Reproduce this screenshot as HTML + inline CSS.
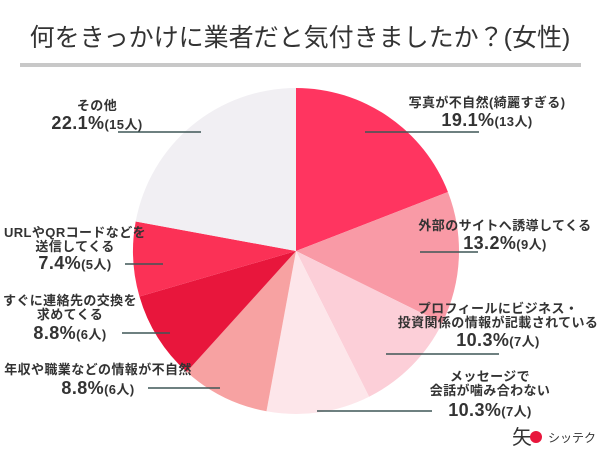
<!DOCTYPE html>
<html><head><meta charset="utf-8"><style>
body{margin:0;background:#fff;width:600px;height:456px;overflow:hidden;font-family:"Liberation Sans","Noto Sans CJK JP",sans-serif;}
</style></head><body>
<svg width="600" height="456" viewBox="0 0 600 456">
<text x="300" y="46" text-anchor="middle" font-size="25" fill="#333">何をきっかけに業者だと気付きましたか？(女性)</text>
<rect x="20" y="63" width="561" height="4" fill="#c8c8c8"/>
<g id="slices"></g>
<g id="labels" font-weight="bold" fill="#333" letter-spacing="0.4"></g>
<g>
<text x="512" y="444" font-size="20" fill="#333">矢</text>
<circle cx="536" cy="437" r="6" fill="#e8163c"/>
<text x="548" y="442" font-size="12" fill="#333">シッテク</text>
</g>
</svg>
<script>
const categories=["写真が不自然(綺麗すぎる)","外部のサイトへ誘導してくる","プロフィールにビジネス・投資関係の情報が記載されている","メッセージで会話が噛み合わない","年収や職業などの情報が不自然","すぐに連絡先の交換を求めてくる","URLやQRコードなどを送信してくる","その他"];
const values=[19.1,13.2,10.3,10.3,8.8,8.8,7.4,22.1];
const counts=[13,9,7,7,6,6,5,15];
const colors=["#ff3560","#f99aa6","#fccfd8","#fde6ea","#f7a2a2","#e8163c","#fb3156","#f1eff3"];
const labelLines=[["写真が不自然(綺麗すぎる)"],["外部のサイトへ誘導してくる"],["プロフィールにビジネス・","投資関係の情報が記載されている"],["メッセージで","会話が噛み合わない"],["年収や職業などの情報が不自然"],["すぐに連絡先の交換を","求めてくる"],["URLやQRコードなどを","送信してくる"],["その他"]];
const labelX=[487,505,498,490,98,70,75,97];
const labelY=[102,225,308,376,369,300,232,105];
const pctY=[120,243,340,410,388,333,263,123];
const leaders=[[365,479,132],[420,478,252],[386,499,354],[317,432,411],[148,220,388],[122,170,333],[125,163,264],[118,201,132]];
const ns="http://www.w3.org/2000/svg";
const cx=296,cy=251,r=163;
const total=values.reduce((a,b)=>a+b,0);
const sg=document.getElementById('slices');
let a0=0;
values.forEach((v,i)=>{
 const a1=a0+v/total*2*Math.PI;
 const x0=cx+r*Math.sin(a0),y0=cy-r*Math.cos(a0),x1=cx+r*Math.sin(a1),y1=cy-r*Math.cos(a1);
 const p=document.createElementNS(ns,'path');
 p.setAttribute('d',`M${cx},${cy}L${x0},${y0}A${r},${r} 0 ${a1-a0>Math.PI?1:0} 1 ${x1},${y1}Z`);
 p.setAttribute('fill',colors[i]);
 
 
 sg.appendChild(p);
 a0=a1;
});
const lg=document.getElementById('labels');
labelLines.forEach((lines,i)=>{
 const x=labelX[i];
 const t=document.createElementNS(ns,'text');
 t.setAttribute('text-anchor','middle');
 
 
 lines.forEach((s,j)=>{const ts=document.createElementNS(ns,'tspan');ts.setAttribute('x',x);ts.setAttribute('y',labelY[i]+5+j*14);ts.setAttribute('font-size','13');ts.textContent=s;t.appendChild(ts);});
 const ts=document.createElementNS(ns,'tspan');ts.setAttribute('x',x);ts.setAttribute('y',pctY[i]+6);
 const b=document.createElementNS(ns,'tspan');b.setAttribute('font-size','18');b.textContent=values[i].toFixed(1)+'%';ts.appendChild(b);
 const c=document.createElementNS(ns,'tspan');c.setAttribute('font-size','13');c.textContent='('+counts[i]+'人)';ts.appendChild(c);
 t.appendChild(ts);
 lg.appendChild(t);
 const l=document.createElementNS(ns,'line');
 const [ax,bx,ly]=leaders[i];
 l.setAttribute('x1',ax);l.setAttribute('y1',ly);l.setAttribute('x2',bx);l.setAttribute('y2',ly);
 l.setAttribute('stroke','#3f5656');l.setAttribute('stroke-width','1.5');
 
 
 lg.appendChild(l);
});
</script>
</body></html>
